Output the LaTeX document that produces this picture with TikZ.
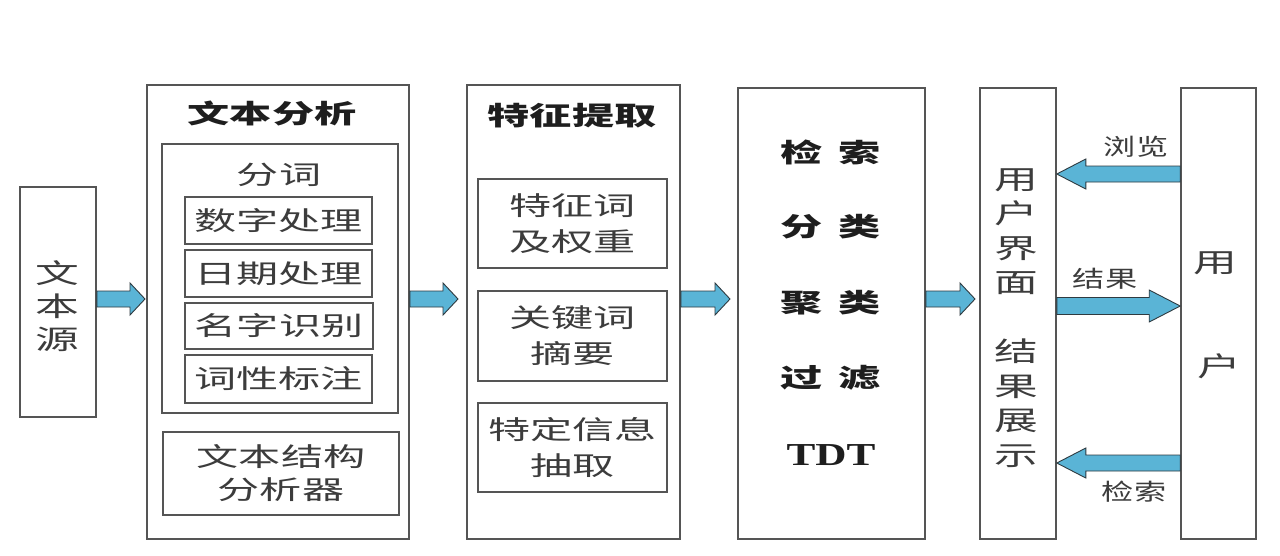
\documentclass[tikz,border=0pt]{standalone}
\usepackage{fontspec}
\usetikzlibrary{calc}
\newfontfamily\cjk[FakeStretch=1.62]{Noto Sans CJK SC}
\newfontfamily\cjksmall[FakeStretch=1.4]{Noto Sans CJK SC}
\newfontfamily\tdtfont[FakeStretch=1.35]{Liberation Serif}
\definecolor{txt}{HTML}{3C3C3C}
\definecolor{ttl}{HTML}{1E1E1E}
\definecolor{edge}{HTML}{555555}
\definecolor{arrfill}{HTML}{5AB4D6}
\definecolor{arredge}{HTML}{2E3A40}
\newcommand\blockarrow[5]{%
  \draw[arr] let \p1=(#1), \p2=(#2), \p3=($(#2)!#3!(#1)$) in
    (\x1,\y1+#4) -- (\x3,\y3+#4) -- (\x3,\y3+#5) -- (\x2,\y2)
    -- (\x3,\y3-#5) -- (\x3,\y3-#4) -- (\x1,\y1-#4) -- cycle;}
\begin{document}
\begin{tikzpicture}[x=1pt,y=-1pt,
  box/.style={draw=edge,line width=1.6pt,rectangle,inner sep=0pt,fill=white},
  body/.style={font=\cjk\fontsize{26}{36}\selectfont,text=txt,align=center,inner sep=0pt},
  vert/.style={font=\cjk\fontsize{27}{34.5}\selectfont,text=txt,align=center,inner sep=0pt},
  title/.style={font=\cjk\bfseries\fontsize{26}{34}\selectfont,text=ttl,align=center,inner sep=0pt},
  lbl/.style={font=\cjksmall\fontsize{23}{28}\selectfont,text=txt,inner sep=0pt},
  arr/.style={fill=arrfill,draw=arredge,line width=0.9pt,line join=miter}]
\useasboundingbox[fill=white] (0,0) rectangle (1280,555);

% source
\node[box,minimum width=76pt,minimum height=230pt] (src) at (58,302) {};
\node[vert,font=\cjk\fontsize{27}{33}\selectfont] (srct) at (57,306) {文\\本\\源};

% text analysis
\node[box,minimum width=262pt,minimum height=454pt] (ana) at (278,312) {};
\node[title] (anat) at (272,113) {文本分析};
\node[box,minimum width=236pt,minimum height=269pt] (seg) at (280,278.5) {};
\node[body] (segt) at (279,175) {分词};
\node[box,body,minimum width=187pt,minimum height=47pt] (b1) at (278.5,220.5) {数字处理};
\node[box,body,minimum width=187pt,minimum height=47pt] (b2) at (278.5,273.5) {日期处理};
\node[box,body,minimum width=188pt,minimum height=46pt] (b3) at (279,326) {名字识别};
\node[box,body,minimum width=187pt,minimum height=48pt] (b4) at (278.5,379) {词性标注};
\node[box,body,font=\cjk\fontsize{26}{33}\selectfont,minimum width=236pt,minimum height=83pt] (struct) at (281,473.5) {文本结构\\分析器};

% feature extraction
\node[box,minimum width=213pt,minimum height=454pt] (feat) at (573.5,312) {};
\node[title] (featt) at (572,116) {特征提取};
\node[box,body,minimum width=189pt,minimum height=89pt] (f1) at (572.5,223.5) {特征词\\及权重};
\node[box,body,minimum width=189pt,minimum height=90pt] (f2) at (572.5,336) {关键词\\摘要};
\node[box,body,minimum width=189pt,minimum height=89pt] (f3) at (572.5,447.5) {特定信息\\抽取};

% retrieval
\node[box,minimum width=187pt,minimum height=451pt] (ret) at (831.5,313.5) {};
\node[title] (r1) at (830.5,152) {检\hspace{15pt}索};
\node[title] (r2) at (830.5,227) {分\hspace{15pt}类};
\node[title] (r3) at (830.5,303) {聚\hspace{15pt}类};
\node[title] (r4) at (830.5,378) {过\hspace{15pt}滤};
\node[inner sep=0pt,text=ttl,font=\tdtfont\bfseries\fontsize{32}{34}\selectfont] (r5) at (831,455) {TDT};

% user interface
\node[box,minimum width=76pt,minimum height=451pt] (ui) at (1018,313.5) {};
\node[vert] (uit) at (1016,318) {用\\户\\界\\面\\[34.5pt]结\\果\\展\\示};

% user
\node[box,minimum width=75pt,minimum height=451pt] (user) at (1218.5,313.5) {};
\node[vert] (u1) at (1215,263) {用};
\node[vert] (u2) at (1219,366) {户};

% main flow arrows
\coordinate (a1s) at (src.east |- 0,299);
\coordinate (a1e) at (145,299);
\coordinate (a2s) at (ana.east |- 0,299);
\coordinate (a2e) at (458,299);
\coordinate (a3s) at (feat.east |- 0,299);
\coordinate (a3e) at (730,299);
\coordinate (a4s) at (ret.east |- 0,299);
\coordinate (a4e) at (975,299);
\blockarrow{a1s}{a1e}{15pt}{8pt}{16pt}
\blockarrow{a2s}{a2e}{15pt}{8pt}{16pt}
\blockarrow{a3s}{a3e}{15pt}{8pt}{16pt}
\blockarrow{a4s}{a4e}{15pt}{8pt}{16pt}

% user interaction arrows
\coordinate (b1s) at (user.west |- 0,174);
\coordinate (b1e) at (ui.east |- 0,174);
\coordinate (b2s) at (ui.east |- 0,306);
\coordinate (b2e) at (user.west |- 0,306);
\coordinate (b3s) at (user.west |- 0,463);
\coordinate (b3e) at (ui.east |- 0,463);
\blockarrow{b1s}{b1e}{29pt}{8pt}{15pt}
\blockarrow{b2s}{b2e}{31pt}{8.5pt}{16pt}
\blockarrow{b3s}{b3e}{29pt}{8pt}{15pt}
\node[lbl] (l1) at (1136,147) {浏览};
\node[lbl] (l2) at (1105,279) {结果};
\node[lbl] (l3) at (1134,492) {检索};
\end{tikzpicture}
\end{document}
